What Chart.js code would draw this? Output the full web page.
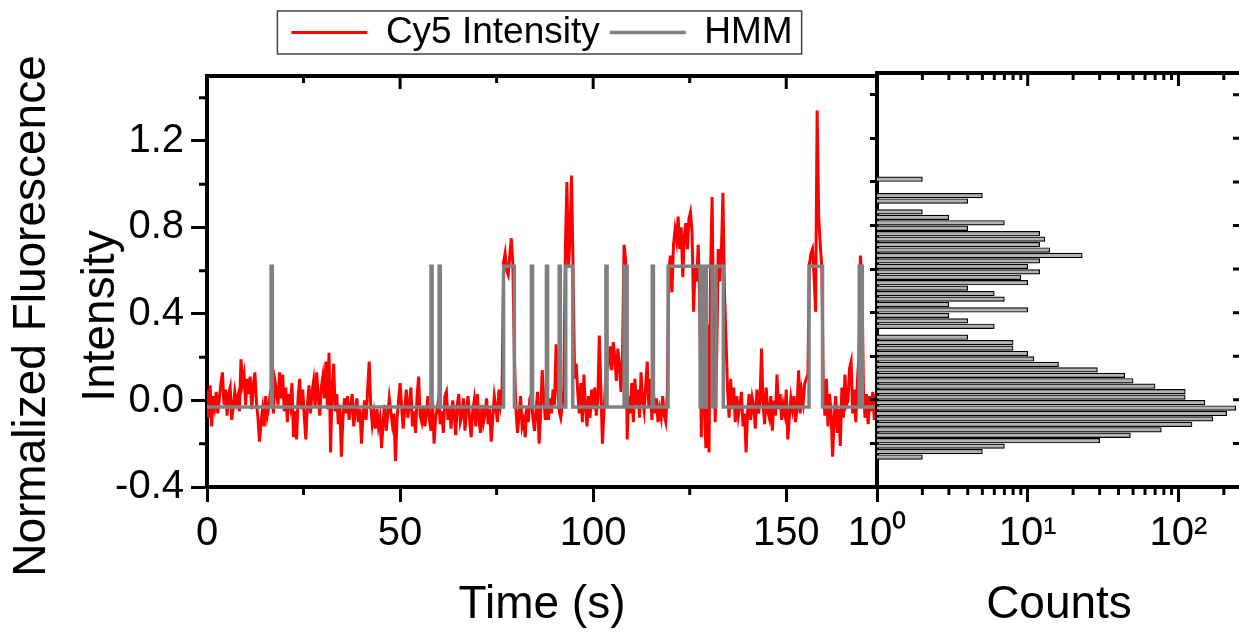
<!DOCTYPE html>
<html>
<head>
<meta charset="utf-8">
<title>Cy5 intensity trace with HMM fit</title>
<script src="https://cdn.jsdelivr.net/npm/chart.js@4.4.1/dist/chart.umd.min.js"></script>
<style>
  html, body { margin: 0; padding: 0; background: #fff; overflow: hidden; }
  #wrap { position: relative; width: 1239px; height: 632px; overflow: hidden; background: #fff; }
  #wrap canvas { position: absolute; left: 0; top: 0; }
</style>
</head>
<body>
<div id="wrap">
  <canvas id="trace" width="1239" height="632"></canvas>
  <canvas id="hist" width="1250" height="632"></canvas>
</div>
<script>
// ====== DATA ======

// Cy5 trace, one value per frame (frameDt seconds apart)
const frameDt = 0.4;
const cy5 = [
  0.05, -0.08, 0.07, -0.12, 0.02, -0.03, 0.04, -0.06, 0.01, 0.08,
  0.13, -0.02, 0.05, -0.07, 0.03, 0.06, -0.09, -0.03, 0.04, -0.01,
  0.02, -0.05, 0.19, 0.08, 0.12, -0.02, 0.1, 0.03, 0.11, -0.04,
  0.07, 0.13, -0.01, -0.08, -0.19, -0.1, -0.04, -0.12, 0.02, -0.07,
  -0.03, 0.04, 0.06, -0.06, 0.09, 0.05, -0.02, 0.13, 0.01, 0.12,
  -0.05, 0.06, -0.1, 0.03, -0.02, 0.08, -0.17, -0.05, -0.18, 0.02,
  0.1, -0.04, 0.05, -0.08, -0.18, -0.02, 0.07, -0.06, 0.04, 0.09,
  -0.03, 0.13, 0.02, -0.07, 0.06, 0.11, 0.01, 0.18, -0.04, 0.22,
  -0.24, 0.06, 0.17, -0.05, 0.03, -0.11, -0.02, -0.26, -0.08, 0.01,
  -0.06, 0.02, -0.09, -0.03, 0.03, -0.12, -0.05, 0.01, -0.1, -0.04,
  -0.2, -0.07, 0.0, -0.09, 0.05, 0.18, -0.02, -0.11, -0.06, -0.13,
  -0.04, -0.12, -0.08, -0.22, -0.1, -0.02, -0.14, -0.07, 0.01, -0.05,
  -0.11, -0.06, -0.28, -0.09, 0.0, 0.08, -0.03, -0.13, -0.04, 0.05,
  -0.08, -0.02, 0.06, -0.12, -0.05, -0.15, 0.02, 0.11, -0.07, -0.1,
  -0.03, -0.12, -0.06, 0.02, -0.09, -0.14, 0.0, -0.2, -0.08, -0.04,
  0.01, -0.11, -0.05, -0.15, 0.02, 0.04, -0.09, -0.03, -0.13, 0.0,
  -0.06, -0.16, -0.02, 0.03, -0.1, -0.07, 0.01, -0.14, -0.04, 0.02,
  -0.09, -0.17, -0.05, 0.0, -0.12, 0.03, -0.08, -0.15, -0.02, -0.1,
  -0.06, 0.01, -0.11, -0.04, -0.19, -0.08, 0.02, -0.03, -0.1, 0.05,
  -0.02, 0.03, 0.64, 0.68, 0.6, 0.58, 0.67, 0.75, 0.63, 0.2,
  -0.04, -0.15, -0.07, 0.02, -0.12, -0.09, -0.17, -0.03, -0.1, 0.01,
  0.03, -0.08, -0.14, -0.05, 0.04, -0.2, -0.06, 0.14, 0.02, -0.09,
  -0.03, -0.09, 0.01, -0.06, 0.05, -0.02, 0.26, 0.07, -0.05, -0.08,
  -0.02, 0.05, 0.7, 1.01, 0.62, 0.75, 1.04, 0.6, 0.1, 0.17,
  0.04, -0.06, 0.08, -0.1, 0.12, -0.03, -0.12, 0.02, -0.08, 0.05,
  -0.04, 0.06, -0.07, 0.01, 0.3, 0.05, -0.2, -0.05, 0.08, 0.22,
  0.18, 0.25, 0.14, 0.27, 0.2, 0.09, 0.24, 0.16, 0.04, 0.21,
  0.72, 0.65, -0.18, 0.02, -0.06, 0.08, -0.1, 0.1, -0.02, 0.05,
  -0.08, 0.13, 0.0, -0.05, 0.07, 0.18, -0.03, 0.1, -0.09, 0.04,
  -0.06, 0.01, -0.1, -0.04, -0.08, 0.02, -0.07, -0.1, 0.03, 0.6,
  0.67, 0.5, 0.72, 0.79, 0.74, 0.85, 0.7, 0.8, 0.57, 0.76,
  0.82, 0.7, 0.84, 0.87, 0.78, 0.41, 0.62, 0.55, 0.72, 0.45,
  -0.17, 0.45, -0.05, -0.22, 0.35, -0.24, 0.6, 0.94, 0.3, -0.1,
  0.22, 0.7, 0.55, 0.68, 0.96, 0.5, 0.28, 0.05, -0.08, 0.1,
  -0.04, 0.06, -0.1, 0.02, -0.07, -0.02, 0.04, -0.12, -0.06, -0.24,
  -0.05, 0.03, -0.09, 0.01, -0.03, -0.13, 0.05, -0.06, 0.0, 0.24,
  -0.02, -0.11, 0.06, -0.05, -0.08, 0.02, -0.14, 0.0, -0.07, 0.12,
  -0.04, 0.03, -0.09, -0.02, -0.06, 0.05, -0.18, -0.08, 0.01, -0.04,
  0.02, -0.1, -0.03, 0.14, -0.06, 0.04, -0.01, 0.08, 0.1, 0.12,
  0.63, 0.68, 0.7, 0.58, 0.41, 1.34, 0.85, 0.72, 0.62, 0.06,
  -0.07, 0.1, -0.12, 0.03, -0.05, -0.26, -0.09, 0.02, -0.15, -0.04,
  -0.21, 0.06, -0.08, 0.12, -0.02, 0.0, 0.15, 0.18, -0.06, 0.05,
  -0.1, 0.08, 0.2, 0.67, 0.55, 0.04, -0.08, 0.03, -0.11, 0.02,
  -0.05, 0.04, -0.09, 0.03
];

// HMM idealised path: level holds from each time until the next one
const hmmTimes = [
  0, 16.6, 16.9, 58.0, 58.3, 60.1, 60.4, 76.8, 79.6, 84.0,
  84.3, 87.9, 88.2, 91.2, 91.5, 92.9, 94.7, 103.3, 103.6, 108.0,
  108.8, 115.3, 115.6, 119.4, 127.7, 128.3, 128.7, 129.3, 130.8, 131.8,
  133.7, 155.9, 159.4, 168.9, 169.7, 173.5
];
const hmmLevels = [
  -0.03, 0.62, -0.03, 0.62, -0.03, 0.62, -0.03, 0.62, -0.03, 0.62,
  -0.03, 0.62, -0.03, 0.62, -0.03, 0.62, -0.03, 0.62, -0.03, 0.62,
  -0.03, 0.62, -0.03, 0.62, -0.03, 0.62, -0.03, 0.62, -0.03, 0.62,
  -0.03, 0.62, -0.03, 0.62, -0.03, -0.03
];

// intensity histogram (bin centres, counts)
const histBins = [
  1.0125, 0.9875, 0.9625, 0.9375, 0.9125, 0.8875, 0.8625, 0.8375, 0.8125, 0.7875,
  0.7625, 0.7375, 0.7125, 0.6875, 0.6625, 0.6375, 0.6125, 0.5875, 0.5625, 0.5375,
  0.5125, 0.4875, 0.4625, 0.4375, 0.4125, 0.3875, 0.3625, 0.3375, 0.3125, 0.2875,
  0.2625, 0.2375, 0.2125, 0.1875, 0.1625, 0.1375, 0.1125, 0.0875, 0.0625, 0.0375,
  0.0125, -0.0125, -0.0375, -0.0625, -0.0875, -0.1125, -0.1375, -0.1625, -0.1875, -0.2125,
  -0.2375, -0.2625
];
const histCounts = [
  2, 0, 0, 5, 4, 0, 2, 3, 7, 4,
  12, 13, 12, 14, 23, 12, 10, 12, 9, 10,
  4, 6, 7, 3, 10, 3, 4, 6, 0, 4,
  8, 8, 10, 11, 16, 29, 44, 50, 70, 111,
  111, 150, 240, 209, 169, 123, 77, 48, 30, 7,
  5, 2
];

// ticks
const timeTicks = [0, 50, 100, 150];
const timeMinor = [25, 75, 125];
const intensityTicks = [-0.4, 0, 0.4, 0.8, 1.2];
const intensityMinor = [-0.2, 0.2, 0.6, 1.0, 1.4];
const intensityAll = [-0.4, -0.2, 0, 0.2, 0.4, 0.6, 0.8, 1.0, 1.2, 1.4];
const countTicks = [1, 10, 100];
const countMinor = [2, 3, 4, 5, 6, 7, 8, 9, 20, 30, 40, 50, 60, 70, 80, 90, 200];
const countLabels = { 1: '10\u2070', 10: '10\u00b9', 100: '10\u00b2' };

// ====== STYLE ======
const FONT = "'Liberation Sans', Arial, sans-serif";
const INK = '#000';
// the figure's y title sits a little below the middle of the axis;
// trailing spaces push the centred text down
const TITLE_PUSH = '\u2003\u2002';

// short tick marks on the frame (minor ticks, inward ticks on top / right)
const frameTicks = {
  id: 'frameTicks',
  afterDraw(chart, args, opts) {
    const { ctx, chartArea: a } = chart;
    ctx.save();
    ctx.strokeStyle = INK;
    ctx.lineWidth = 3;
    for (const m of opts.marks || []) {
      const s = chart.scales[m.scale];
      ctx.beginPath();
      for (const v of m.values) {
        const p = s.getPixelForValue(v);
        if (m.side === 'bottom') { ctx.moveTo(p, a.bottom); ctx.lineTo(p, a.bottom + m.len); }
        else if (m.side === 'top') { ctx.moveTo(p, a.top); ctx.lineTo(p, a.top + m.len); }
        else if (m.side === 'left') { ctx.moveTo(a.left, p); ctx.lineTo(a.left - m.len, p); }
        else { ctx.moveTo(a.right, p); ctx.lineTo(a.right - m.len, p); }
      }
      ctx.stroke();
    }
    ctx.restore();
  }
};

// thin box round the legend
const legendFrame = {
  id: 'legendFrame',
  afterDraw(chart) {
    const hb = chart.legend && chart.legend.legendHitBoxes;
    if (!hb || !hb.length) return;
    const first = hb[0], last = hb[hb.length - 1];
    const x0 = first.left - 14, x1 = last.left + last.width + 9;
    const cy = first.top + first.height / 2;
    const ctx = chart.ctx;
    ctx.save();
    ctx.strokeStyle = '#444';
    ctx.lineWidth = 1.5;
    ctx.strokeRect(x0, cy - 21.5, x1 - x0, 43);
    ctx.restore();
  }
};

const border = { color: INK, width: 4 };

// ====== TRACE PANEL ======
const padA = { left: 0, right: 362, top: 4, bottom: 0 };
const topGridA = { drawOnChartArea: false, tickLength: 15, tickColor: 'rgba(0,0,0,0)' };

const traceChart = new Chart(document.getElementById('trace'), {
  type: 'line',
  data: {
    datasets: [
      {
        label: 'Cy5 Intensity',
        data: cy5.map((v, i) => ({ x: i * frameDt, y: v })),
        borderColor: '#ff0000',
        backgroundColor: '#ff0000',
        borderWidth: 3,
        pointRadius: 0,
        order: 1,
      },
      {
        label: 'HMM',
        data: hmmTimes.map((t, i) => ({ x: t, y: hmmLevels[i] })),
        borderColor: '#808080',
        backgroundColor: '#808080',
        borderWidth: 3.5,
        pointRadius: 0,
        stepped: 'before',
        order: 0,
      },
    ],
  },
  options: {
    responsive: false,
    animation: false,
    devicePixelRatio: 1,
    layout: { padding: padA },
    plugins: {
      legend: {
        position: 'top',
        fullSize: false,
        labels: {
          usePointStyle: true,
          pointStyle: 'line',
          pointStyleWidth: 76,
          padding: 10,
          color: INK,
          font: { family: FONT, size: 37 },
          sort: (a, b) => a.datasetIndex - b.datasetIndex,
        },
      },
      tooltip: { enabled: false },
      frameTicks: {
        marks: [
          { scale: 'x', side: 'bottom', values: timeMinor, len: 8 },
          { scale: 'x', side: 'top', values: timeTicks, len: 13 },
          { scale: 'x', side: 'top', values: timeMinor, len: 7 },
          { scale: 'y', side: 'left', values: intensityMinor, len: 8 },
        ],
      },
    },
    scales: {
      x: {
        type: 'linear',
        position: 'bottom',
        min: 0,
        max: 173.5,
        afterBuildTicks: (s) => { s.ticks = timeTicks.map((v) => ({ value: v })); },
        ticks: { font: { family: FONT, size: 40 }, color: INK, padding: 8, maxRotation: 0, autoSkip: false },
        grid: { drawOnChartArea: false, tickLength: 15, tickWidth: 3, tickColor: INK },
        border,
        title: { display: true, text: 'Time (s)', color: INK, font: { family: FONT, size: 46 }, padding: { top: 12, bottom: 0 } },
      },
      xTop: {
        type: 'linear',
        position: 'top',
        min: 0,
        max: 173.5,
        ticks: { display: false },
        grid: topGridA,
        border,
      },
      y: {
        type: 'linear',
        min: -0.4,
        max: 1.5,
        afterBuildTicks: (s) => { s.ticks = intensityTicks.map((v) => ({ value: v })); },
        ticks: { font: { family: FONT, size: 40 }, color: INK, padding: 7, callback: (v) => Number(v).toFixed(1) },
        grid: { drawOnChartArea: false, tickLength: 16, tickWidth: 3, tickColor: INK },
        border,
        title: {
          display: true,
          text: ['Normalized Fluorescence' + TITLE_PUSH, 'Intensity' + TITLE_PUSH],
          color: INK,
          font: { family: FONT, size: 46, lineHeight: 1.5 },
          padding: { top: 0, bottom: -28 },
        },
      },
    },
  },
  plugins: [frameTicks, legendFrame],
});

// ====== HISTOGRAM PANEL ======
const padB = { left: 860, right: 9, top: 73, bottom: 0 };

const histChart = new Chart(document.getElementById('hist'), {
  type: 'bar',
  data: {
    datasets: [
      {
        label: 'Counts',
        data: histBins.map((b, i) => ({ y: b, x: histCounts[i] > 0 ? histCounts[i] : null })),
        backgroundColor: '#b3b3b3',
        borderColor: INK,
        borderWidth: 1.2,
        barThickness: 4.6,
        xAxisID: 'x',
        yAxisID: 'y',
      },
    ],
  },
  options: {
    indexAxis: 'y',
    responsive: false,
    animation: false,
    devicePixelRatio: 1,
    layout: { padding: padB },
    plugins: {
      legend: { display: false },
      tooltip: { enabled: false },
      frameTicks: {
        marks: [
          { scale: 'x', side: 'bottom', values: countMinor, len: 8 },
          { scale: 'x', side: 'top', values: countTicks, len: 13 },
          { scale: 'x', side: 'top', values: countMinor, len: 7 },
          { scale: 'y', side: 'right', values: intensityAll, len: 8 },
        ],
      },
    },
    scales: {
      x: {
        type: 'logarithmic',
        position: 'bottom',
        min: 1,
        max: 260,
        offset: false,
        afterBuildTicks: (s) => { s.ticks = countTicks.map((v) => ({ value: v })); },
        ticks: { font: { family: FONT, size: 40 }, color: INK, padding: 8, maxRotation: 0, autoSkip: false, callback: (v) => countLabels[v] || '' },
        grid: { drawOnChartArea: false, tickLength: 15, tickWidth: 3, tickColor: INK },
        border,
        title: { display: true, text: 'Counts', color: INK, font: { family: FONT, size: 46 }, padding: { top: 12, bottom: 0 } },
      },
      xTop: {
        type: 'logarithmic',
        position: 'top',
        min: 1,
        max: 260,
        offset: false,
        ticks: { display: false },
        grid: { drawOnChartArea: false, drawTicks: false },
        border,
      },
      y: {
        type: 'linear',
        position: 'left',
        min: -0.4,
        max: 1.5,
        offset: false,
        afterBuildTicks: (s) => { s.ticks = intensityAll.map((v) => ({ value: v })); },
        ticks: { display: false },
        grid: { drawOnChartArea: false, offset: false, tickLength: 7, tickWidth: 3, tickColor: INK },
        border,
      },
      yRight: {
        type: 'linear',
        position: 'right',
        min: -0.4,
        max: 1.5,
        offset: false,
        ticks: { display: false },
        grid: { drawOnChartArea: false, drawTicks: false },
        border,
      },
    },
  },
  plugins: [frameTicks],
});

// ====== put both plot areas where the figure has them ======
function fitArea(chart, pad, box, topGrid) {
  for (let k = 0; k < 3; k++) {
    const a = chart.chartArea;
    pad.left += box.left - a.left;
    pad.right += a.right - box.right;
    pad.bottom += a.bottom - box.bottom;
    if (topGrid) topGrid.tickLength += box.top - a.top;
    else pad.top += box.top - a.top;
    chart.update('none');
  }
}

fitArea(traceChart, padA, { left: 207, right: 877, top: 73, bottom: 487 }, topGridA);
fitArea(histChart, padB, { left: 877, right: 1241, top: 73, bottom: 487 });
</script>
</body>
</html>
